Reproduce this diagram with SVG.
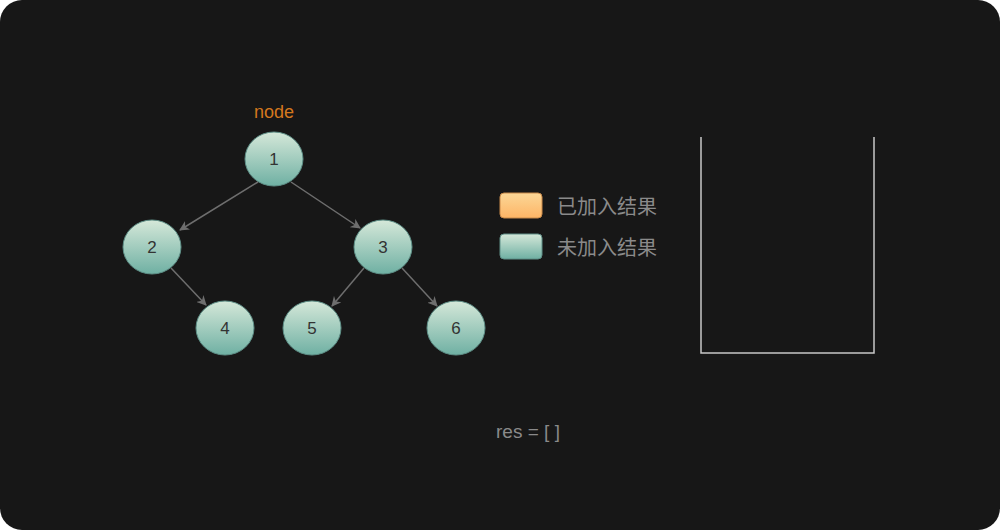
<svg xmlns="http://www.w3.org/2000/svg" width="1000" height="530" viewBox="0 0 1000 530">
<defs>
<linearGradient id="g" x1="0" y1="0" x2="0" y2="1"><stop offset="0" stop-color="#d5e8d9"/><stop offset="1" stop-color="#6fb0a3"/></linearGradient>
<linearGradient id="o" x1="0" y1="0" x2="0" y2="1"><stop offset="0" stop-color="#fbd797"/><stop offset="1" stop-color="#feb566"/></linearGradient>
<marker id="a" markerWidth="10" markerHeight="10" refX="9" refY="5" orient="auto" markerUnits="userSpaceOnUse"><path d="M0,0 L10,5 L0,10 L3,5 Z" fill="#6e6e6e"/></marker>
<style>
.n{fill:url(#g);stroke:#5e8f87;stroke-width:1}
.t{font-family:"Liberation Sans",Arial,sans-serif;font-size:17px;fill:#333;text-anchor:middle}
.c{stroke:#6e6e6e;stroke-width:1.5;fill:none;marker-end:url(#a)}
.l{font-family:"Liberation Sans","Noto Sans CJK SC",sans-serif;font-size:20px;fill:#8a8a8a}
</style>
</defs>
<rect width="1000" height="530" rx="22" fill="#171717"/>
<g id="connectors">
<path class="c" d="M258,182 L180,230"/>
<path class="c" d="M291,182 L360,228"/>
<path class="c" d="M171,268 L206,305"/>
<path class="c" d="M364,268 L332,306"/>
<path class="c" d="M402,268 L437,306"/>
</g>
<text x="274" y="118" font-family="Liberation Sans,Arial,sans-serif" font-size="18" fill="#d4781e" text-anchor="middle">node</text>
<g id="n1"><ellipse class="n" cx="274" cy="159" rx="29" ry="27"/><text class="t" x="274" y="165">1</text></g>
<g id="n2"><ellipse class="n" cx="152" cy="247" rx="29" ry="27"/><text class="t" x="152" y="253">2</text></g>
<g id="n3"><ellipse class="n" cx="383" cy="247" rx="29" ry="27"/><text class="t" x="383" y="253">3</text></g>
<g id="n4"><ellipse class="n" cx="225" cy="328" rx="29" ry="27"/><text class="t" x="225" y="334">4</text></g>
<g id="n5"><ellipse class="n" cx="312" cy="328" rx="29" ry="27"/><text class="t" x="312" y="334">5</text></g>
<g id="n6"><ellipse class="n" cx="456" cy="328" rx="29" ry="27"/><text class="t" x="456" y="334">6</text></g>
<g id="legend">
<rect x="500" y="193" width="42" height="25" rx="4" fill="url(#o)" stroke="#c98a4a"/>
<text class="l" x="557" y="214">已加入结果</text>
<rect x="500" y="234" width="42" height="25" rx="4" fill="url(#g)" stroke="#5e8f87"/>
<text class="l" x="557" y="255">未加入结果</text>
</g>
<g id="stack"><path d="M701,137 V353 H874 V137" fill="none" stroke="#c8c8c8" stroke-width="1.5"/></g>
<text x="528" y="438" font-family="Liberation Sans,Arial,sans-serif" font-size="19" fill="#8a8a8a" text-anchor="middle">res = [ ]</text>
</svg>
